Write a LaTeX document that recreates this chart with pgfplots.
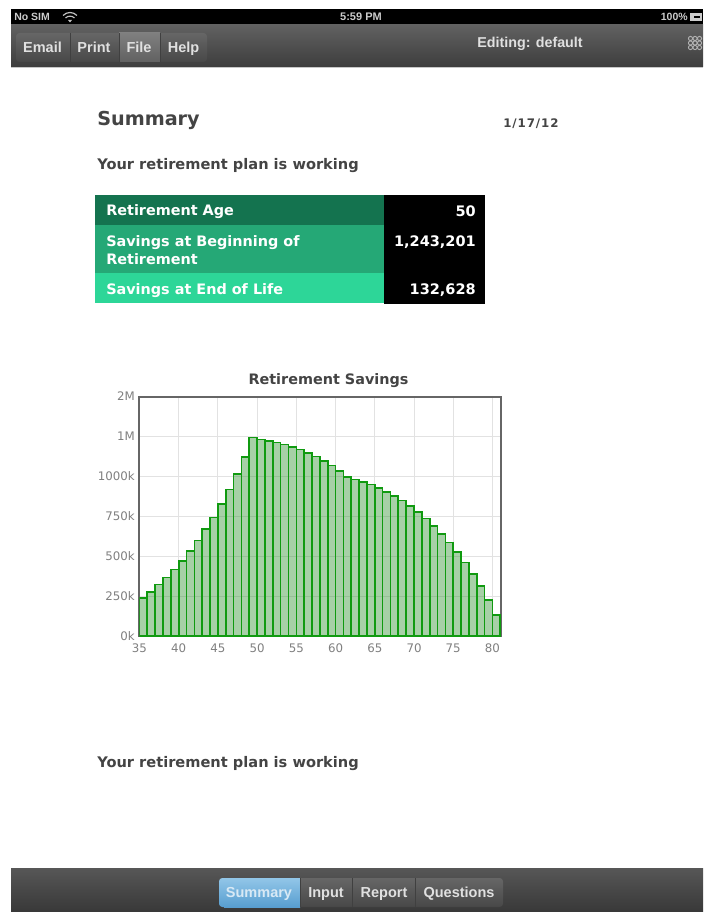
\documentclass[border=0pt]{standalone}
\usepackage{fontspec}
\setmainfont{DejaVu Sans}
\newfontfamily\uifont{Liberation Sans}
\newfontfamily\datefont[LetterSpace=8]{DejaVu Sans}
\usepackage{pgfplots}
\usepackage{pgfplotstable}
\pgfplotsset{compat=1.18}
\definecolor{inkgray}{HTML}{444444}
\definecolor{ticktext}{HTML}{808080}
\definecolor{gridgray}{HTML}{E2E2E2}
\definecolor{framegray}{HTML}{666666}
\definecolor{barline}{HTML}{109A10}
\definecolor{barfill}{HTML}{2E8F2E}
\definecolor{rowa}{HTML}{14734F}
\definecolor{rowb}{HTML}{25A876}
\definecolor{rowc}{HTML}{2DD698}
\definecolor{tabtop}{HTML}{92C6E8}
\definecolor{tabbottom}{HTML}{589ED0}
\definecolor{tabtext}{HTML}{D8E9F5}
% sizes are given in screen pixels; one pixel is 0.75pt
\newcommand{\pxfont}[1]{\fontsize{\fpeval{#1*0.75}}{\fpeval{#1*0.9}}\selectfont}
% grid under the bars, frame over them
\pgfplotsset{layers/gridunder/.define layer set={axis background,axis grid,main,axis ticks,axis lines,axis tick labels,axis descriptions,axis foreground}{}}
\pgfplotstableread{
age savings
35 239600
36 277000
37 323000
38 367000
39 417000
40 471000
41 531000
42 598000
43 669000
44 742000
45 827000
46 917000
47 1014000
48 1123000
49 1243201
50 1231000
51 1223000
52 1212000
53 1200000
54 1185000
55 1169000
56 1148000
57 1125000
58 1098000
59 1067000
60 1033000
61 996000
62 981000
63 965000
64 948000
65 927000
66 904000
67 877000
68 848000
69 814000
70 777000
71 735000
72 687000
73 640000
74 585000
75 527000
76 460000
77 390000
78 312000
79 227000
80 132628
}\savingstable
\begin{document}
\begin{tikzpicture}
\begin{scope}[x=0.75pt,y=-0.75pt]
\path[use as bounding box,fill=white] (0,0) rectangle (703,912);
% status bar
\fill[black] (11,9) rectangle (703,25);
\node[anchor=base west,text=white!80!black,inner sep=0] at (14,20.5) {\uifont\pxfont{10.5}\bfseries No SIM};
\begin{scope}[draw=white!75!black,line width=0.9pt]
\draw (63,15.5) .. controls (67,11.5) and (73,11.5) .. (77,15.5);
\draw (65.5,18) .. controls (68,15.5) and (72,15.5) .. (74.5,18);
\end{scope}
\fill[white!75!black] (68,20) -- (72,20) -- (70,22.5) -- cycle;
\node[anchor=base,text=white!80!black,inner sep=0] at (361,20.5) {\uifont\pxfont{11}\bfseries 5:59 PM};
\node[anchor=base east,text=white!80!black,inner sep=0] at (688,20.5) {\uifont\pxfont{10.5}\bfseries 100\%};
\fill[white!80!black] (690,13) rectangle (702,21);
\fill[black] (694,16) -- (700,16) -- (700,18) -- (694,18) -- cycle;
% top toolbar
\shade[top color=black!62,bottom color=black!76] (11,25) rectangle (703,67);
\fill[black!22] (11,67) rectangle (703,68.5);
\shade[rounded corners=2.5pt,top color=black!60,bottom color=black!72] (16,33) rectangle (207,62);
\shade[top color=black!50,bottom color=black!62] (119,33) rectangle (160,62);
\foreach \xx in {70,119,160} \draw[black!75,line width=0.6pt] (\xx,33) -- (\xx,62);
\foreach \xx/\word in {42.5/Email,94/Print,139/File,183.5/Help}
  \node[anchor=base,text=white!88!black,inner sep=0] at (\xx,52.5) {\uifont\pxfont{14.5}\bfseries \word};
\node[anchor=base,text=white!88!black,inner sep=0] at (530,48) {\uifont\pxfont{14.3}\bfseries Editing: default};
% small lattice icon at the end of the toolbar
\foreach \cx in {690.5,695,699.5} \foreach \cy in {38.5,43,47.5}
  \draw[white!70!black,line width=0.7pt] (\cx,\cy) circle[radius=2.1];
% page heading
\node[anchor=base west,text=inkgray,inner sep=0] at (97,126) {\pxfont{19.2}\bfseries Summary};
\node[anchor=base west,text=inkgray,inner sep=0] at (503,128) {\datefont\pxfont{11.8}\bfseries 1/17/12};
\node[anchor=base west,text=inkgray,inner sep=0] at (97,169.3) {\pxfont{14.6}\bfseries Your retirement plan is working};
% summary table
\fill[rowa] (95,195) rectangle (384,225);
\fill[rowb] (95,225) rectangle (384,273);
\fill[rowc] (95,273) rectangle (384,303.5);
\fill[black] (384,195) rectangle (485,304);
\begin{scope}[text=white,inner sep=0]
\node[anchor=base west] at (106,216) {\pxfont{14.4}\bfseries Retirement Age};
\node[anchor=base west] at (106,246.5) {\pxfont{14.4}\bfseries Savings at Beginning of};
\node[anchor=base west] at (106,265) {\pxfont{14.4}\bfseries Retirement};
\node[anchor=base west] at (106,294.3) {\pxfont{14.4}\bfseries Savings at End of Life};
\node[anchor=base east] at (476,217) {\pxfont{14.5}\bfseries 50};
\node[anchor=base east] at (476,247) {\pxfont{14.5}\bfseries 1,243,201};
\node[anchor=base east] at (476,295) {\pxfont{14.5}\bfseries 132,628};
\end{scope}
\node[anchor=base,text=inkgray,inner sep=0] at (328.5,384) {\pxfont{14.4}\bfseries Retirement Savings};
\node[anchor=base west,text=inkgray,inner sep=0] at (97,767) {\pxfont{14.6}\bfseries Your retirement plan is working};
% bottom tab bar
\shade[top color=black!66,bottom color=black!78] (11,868) rectangle (703,912);
\shade[rounded corners=2.5pt,top color=black!60,bottom color=black!72] (219,878) rectangle (503,907);
\shade[top color=tabtop,bottom color=tabbottom] (224,878) rectangle (300,907);
\shade[top color=tabtop,bottom color=tabbottom,rounded corners=2.5pt] (219,878) rectangle (228,907);
\foreach \xx in {300,352,415} \draw[black!75,line width=0.6pt] (\xx,878) -- (\xx,907);
\node[anchor=base,text=tabtext,inner sep=0] at (259,897.5) {\uifont\pxfont{14.5}\bfseries Summary};
\foreach \xx/\word in {326/Input,384/Report,459/Questions}
  \node[anchor=base,text=white!88!black,inner sep=0] at (\xx,897.5) {\uifont\pxfont{14.5}\bfseries \word};
\end{scope}
% savings by age; ticks stay evenly spaced as on the printed scale
\begin{axis}[
  at={(104.6pt,-477pt)},anchor=south west,
  scale only axis,width=271.2pt,height=179.6pt,
  set layers=gridunder,
  xmin=35,xmax=81.1,ymin=0,ymax=1500000,
  xtick={35,40,45,50,55,60,65,70,75,80},
  xticklabels={35,40,45,50,55,60,65,70,75,80},
  ytick={0,250000,500000,750000,1000000,1250000,1500000},
  yticklabels={0k,250k,500k,750k,1000k,1M,2M},
  scaled y ticks=false,
  major tick length=0pt,
  tick label style={text=ticktext,font=\pxfont{11.8}},
  xticklabel style={yshift=-2pt,text height=7pt,text depth=0pt},
  grid=major,
  grid style={gridgray,line width=0.75pt},
  axis line style={framegray,line width=1.5pt},
  clip=true,
]
% fill first, outlines after, so that no bar's fill veils its neighbour's edge
\addplot[ybar,bar width=1,bar shift=0.5,draw=none,fill=barfill,fill opacity=0.42]
  table[x=age,y=savings] {\savingstable};
\addplot[ybar,bar width=1,bar shift=0.5,draw=barline,line width=1.25pt,fill=none]
  table[x=age,y=savings] {\savingstable};
\end{axis}
\end{tikzpicture}
\end{document}
